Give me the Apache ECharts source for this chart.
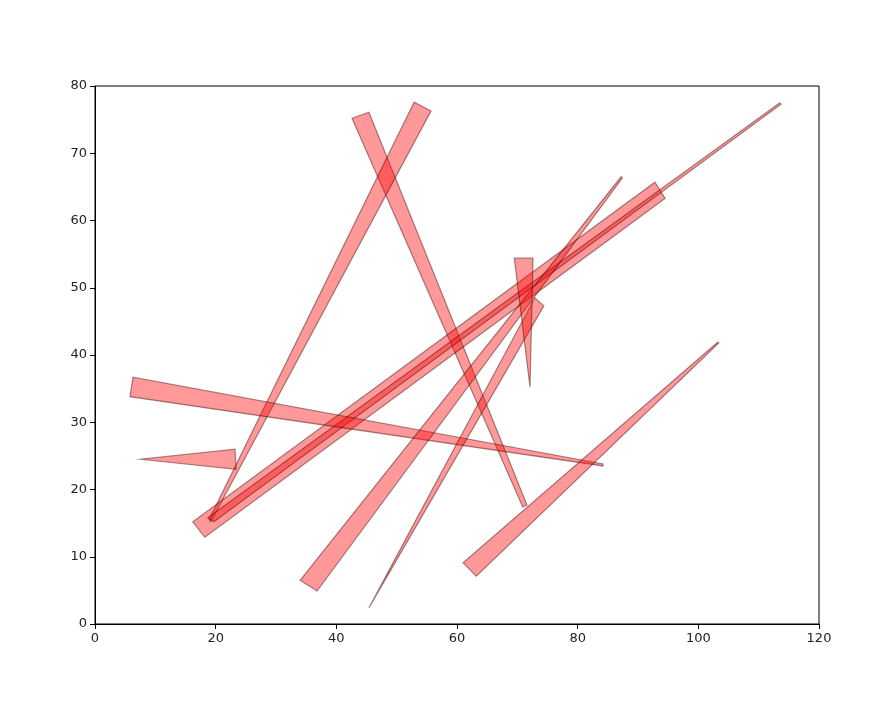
<!DOCTYPE html>
<html><head><meta charset="utf-8">
<script src="https://cdn.jsdelivr.net/npm/echarts@6/dist/echarts.min.js"></script>
<style>html,body{margin:0;padding:0;background:#fff}#c{width:893px;height:711px}</style>
</head><body><div id="c"></div>
<script>
// polygon vertices (data coordinates), one entry per shape
const shapeX = [
  [42.6, 45.4, 71.6, 70.9],
  [52.9, 55.7, 19.2, 18.9],
  [16.2, 18.2, 94.5, 92.8],
  [113.5, 113.7, 19.7, 18.7],
  [6.3, 5.8, 84.2, 84.2],
  [7.5, 23.4, 23.2],
  [34.0, 36.8, 87.4, 87.2],
  [45.4, 74.4, 72.9],
  [69.5, 72.6, 72.1],
  [61.0, 63.2, 103.4, 103.2]
];
const shapeY = [
  [75.2, 76.1, 17.7, 17.4],
  [77.6, 76.3, 15.2, 15.5],
  [15.2, 12.9, 63.3, 65.7],
  [77.5, 77.3, 15.2, 15.8],
  [36.7, 33.8, 23.5, 23.8],
  [24.5, 23.0, 26.0],
  [6.5, 4.9, 66.3, 66.5],
  [2.4, 47.3, 48.5],
  [54.4, 54.4, 35.2],
  [9.1, 7.1, 41.8, 41.9]
];
const xTicks = [0, 20, 40, 60, 80, 100, 120];
const yTicks = [0, 10, 20, 30, 40, 50, 60, 70, 80];

const chart = echarts.init(document.getElementById('c'));
const axisCommon = {
  axisLine: {show: true, onZero: false, lineStyle: {color: '#000', width: 1}},
  axisTick: {show: true, inside: false, length: 5, lineStyle: {color: '#000'}},
  axisLabel: {color: '#222', fontSize: 13, fontFamily: 'DejaVu Sans'},
  splitLine: {show: false}
};
chart.setOption({
  animation: false,
  grid: {left: 95, right: 74, top: 86, bottom: 87, show: true, borderColor: '#000', borderWidth: 1},
  xAxis: Object.assign({type: 'value', min: xTicks[0], max: xTicks[xTicks.length-1], interval: 20}, axisCommon),
  yAxis: Object.assign({type: 'value', min: yTicks[0], max: yTicks[yTicks.length-1], interval: 10}, axisCommon),
  series: [{
    type: 'custom',
    coordinateSystem: 'cartesian2d',
    data: shapeX.map((xs, i) => [i, xs[0], shapeY[i][0]]),
    encode: {x: 1, y: 2},
    renderItem: function (params, api) {
      const i = api.value(0);
      const pts = shapeX[i].map((x, k) => api.coord([x, shapeY[i][k]]));
      return {
        type: 'polygon',
        shape: {points: pts},
        style: {fill: 'rgba(255,0,0,0.4)', stroke: 'rgba(60,0,0,0.45)', lineWidth: 1.2}
      };
    }
  }]
});
</script></body></html>
